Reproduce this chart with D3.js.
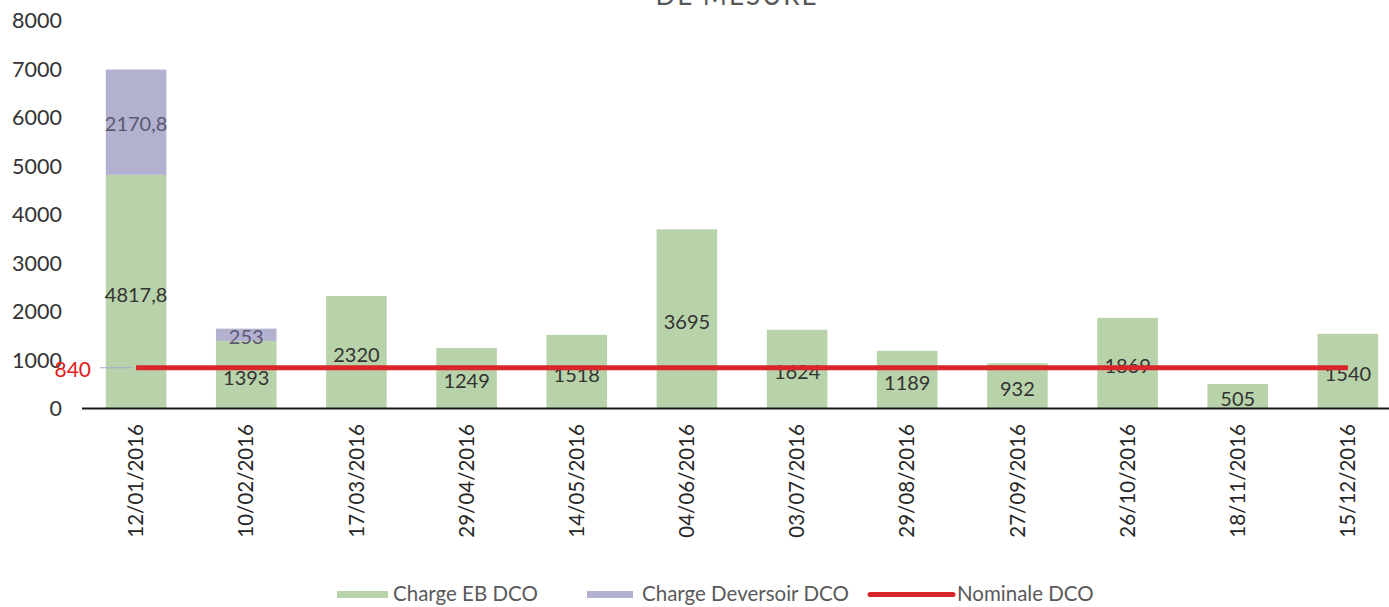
<!DOCTYPE html>
<html><head><meta charset="utf-8">
<script src="https://cdn.jsdelivr.net/npm/d3@7"></script>
<style>body{margin:0;background:#fff}svg{display:block}text{font-family:Lato,"Open Sans",sans-serif}</style>
</head><body><svg id="c" width="1389" height="607"></svg>
<script>
const dates = ["12/01/2016","10/02/2016","17/03/2016","29/04/2016","14/05/2016","04/06/2016","03/07/2016","29/08/2016","27/09/2016","26/10/2016","18/11/2016","15/12/2016"];
const chargeEB = [4817.8,1393,2320,1249,1518,3695,1624,1189,932,1869,505,1540];
const chargeDeversoir = [2170.8,253,0,0,0,0,0,0,0,0,0,0];
const nominale = [840,840,840,840,840,840,840,840,840,840,840,840];
const yTicks = [0,1000,2000,3000,4000,5000,6000,7000,8000];
const legendLabels = ["Charge EB DCO","Charge Deversoir DCO","Nominale DCO"];

const svg = d3.select("#c");
const x = d3.scaleBand().domain(dates).range([81,1403]).paddingInner(0.45).paddingOuter(0.225);
const y = d3.scaleLinear().domain([0,8000]).range([408.5,20.5]);
const fmt = v => String(v).replace(".", ",");
const cGreen = "#b8d2aa", cPurple = "#b3b1d0", cRed = "#d9262b";

// title (clipped at top in the reference)
svg.append("text").attr("x",737).attr("y",5).attr("text-anchor","middle")
  .attr("font-size",26).attr("letter-spacing",2).attr("fill","#595959").text("DE MESURE");

// y axis labels
svg.append("g").selectAll("text").data(yTicks).join("text")
  .attr("x",62).attr("y",d=>y(d)).attr("dy","0.35em").attr("text-anchor","end")
  .attr("font-size",21.5).attr("fill","#333").text(d=>d);

// bars
const g = svg.append("g");
g.selectAll("rect.eb").data(dates).join("rect").attr("class","eb")
  .attr("x",d=>x(d)).attr("width",x.bandwidth())
  .attr("y",(d,i)=>y(chargeEB[i])).attr("height",(d,i)=>y(0)-y(chargeEB[i])).attr("fill",cGreen);
g.selectAll("rect.dv").data(dates).join("rect").attr("class","dv")
  .attr("x",d=>x(d)).attr("width",x.bandwidth())
  .attr("y",(d,i)=>y(chargeEB[i]+chargeDeversoir[i])).attr("height",(d,i)=>y(chargeEB[i])-y(chargeEB[i]+chargeDeversoir[i])).attr("fill",cPurple);

// axis line
svg.append("line").attr("x1",82).attr("x2",1389).attr("y1",y(0)).attr("y2",y(0)).attr("stroke","#1a1a1a").attr("stroke-width",2);

// nominale line
svg.append("line").attr("x1",100).attr("x2",x(dates[0])+x.bandwidth()/2-3).attr("y1",y(nominale[0])).attr("y2",y(nominale[0])).attr("stroke","#a9a8d0").attr("stroke-width",1);
const line = d3.line().x(d=>x(d)+x.bandwidth()/2).y((d,i)=>y(nominale[i]));
svg.append("path").datum(dates).attr("d",line).attr("fill","none").attr("stroke",cRed).attr("stroke-width",5);
svg.append("text").attr("x",91).attr("y",y(nominale[0])+2).attr("dy","0.35em").attr("text-anchor","end")
  .attr("font-size",21).attr("fill","#e02020").text(nominale[0]);

// data labels
g.selectAll("text.eb").data(dates).join("text").attr("class","eb")
  .attr("x",d=>x(d)+x.bandwidth()/2).attr("y",(d,i)=>y(chargeEB[i]/2)+3).attr("dy","0.35em")
  .attr("text-anchor","middle").attr("font-size",20).attr("fill","#333").text((d,i)=>fmt(chargeEB[i]));
g.selectAll("text.dv").data(dates.filter((d,i)=>chargeDeversoir[i]>0)).join("text").attr("class","dv")
  .attr("x",d=>x(d)+x.bandwidth()/2)
  .attr("y",d=>{const i=dates.indexOf(d);return y(chargeEB[i]+chargeDeversoir[i]/2)+2;}).attr("dy","0.35em")
  .attr("text-anchor","middle").attr("font-size",20).attr("fill","#5b5870")
  .text(d=>fmt(chargeDeversoir[dates.indexOf(d)]));

// x labels
svg.append("g").selectAll("text").data(dates).join("text")
  .attr("transform",d=>`translate(${x(d)+x.bandwidth()/2},424) rotate(-90)`)
  .attr("dy","0.35em").attr("text-anchor","end").attr("font-size",20.5).attr("fill","#262626").text(d=>d);

// legend
const lg = svg.append("g");
lg.append("rect").attr("x",337).attr("y",591).attr("width",51).attr("height",7).attr("fill",cGreen);
lg.append("text").attr("x",393).attr("y",601).attr("font-size",20.5).attr("fill","#595959").text(legendLabels[0]);
lg.append("rect").attr("x",587).attr("y",591).attr("width",46).attr("height",7).attr("fill",cPurple);
lg.append("text").attr("x",642).attr("y",601).attr("font-size",20.5).attr("fill","#595959").text(legendLabels[1]);
lg.append("line").attr("x1",870).attr("x2",953).attr("y1",594.5).attr("y2",594.5).attr("stroke",cRed).attr("stroke-width",5).attr("stroke-linecap","round");
lg.append("text").attr("x",957).attr("y",601).attr("font-size",20.5).attr("fill","#595959").text(legendLabels[2]);
</script></body></html>
